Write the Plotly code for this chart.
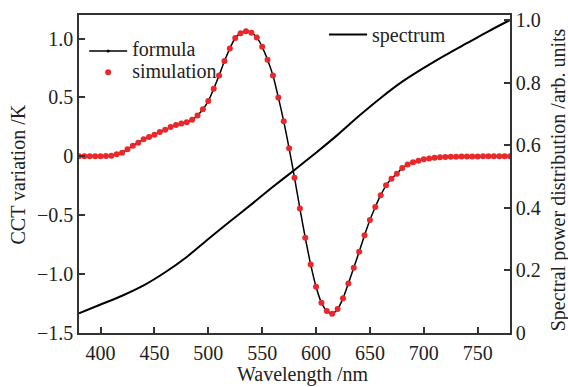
import plotly.graph_objects as go

# Wavelength grid for CCT variation (nm)
wavelength = list(range(380, 785, 5))

# CCT variation /K (formula and simulation coincide)
cct_formula = [
    0, 0, 0, 0, 0, 0.002, 0.005, 0.017, 0.03, 0.06,
    0.09, 0.116, 0.144, 0.164, 0.184, 0.206, 0.225, 0.248, 0.265, 0.278,
    0.29, 0.31, 0.347, 0.40, 0.469, 0.574, 0.686, 0.81, 0.915, 1.005,
    1.045, 1.062, 1.05, 1.01, 0.93, 0.82, 0.686, 0.50, 0.297, 0.068,
    -0.181, -0.442, -0.691, -0.918, -1.108, -1.243, -1.314, -1.336, -1.297, -1.206,
    -1.079, -0.946, -0.81, -0.67, -0.54, -0.43, -0.33, -0.246, -0.19, -0.147,
    -0.099, -0.07, -0.05, -0.037, -0.025, -0.018, -0.012, -0.008, -0.005, -0.004,
    -0.003, -0.002, -0.002, -0.001, -0.001, 0, 0, 0, 0, 0, 0,
]
cct_simulation = list(cct_formula)

# Spectral power distribution (arb. units)
spec_wavelength = [380, 400, 420, 440, 460, 480, 500, 520, 540, 560, 580,
                   600, 620, 640, 660, 680, 700, 720, 740, 760, 780]
spectrum = [0.063, 0.091, 0.119, 0.152, 0.194, 0.243, 0.300, 0.356, 0.411, 0.467, 0.521,
            0.576, 0.633, 0.694, 0.751, 0.803, 0.847, 0.888, 0.926, 0.964, 1.0]

x_ticks = [400, 450, 500, 550, 600, 650, 700, 750]
y_ticks = [-1.5, -1.0, -0.5, 0, 0.5, 1.0]
y_ticktext = ["\u22121.5", "\u22121.0", "\u22120.5", "0", "0.5", "1.0"]
y2_ticks = [0, 0.2, 0.4, 0.6, 0.8, 1.0]
y2_ticktext = ["0", "0.2", "0.4", "0.6", "0.8", "1.0"]

FONT = "Liberation Serif"
AX = "#333333"
TXT = "#222222"
RED = "#e8282b"


def big(s):
    return '<span style="font-size:20px">' + s + "</span>"


fig = go.Figure()
fig.add_trace(go.Scatter(
    x=wavelength, y=cct_formula, name=big("formula"), mode="lines+markers",
    line=dict(color="black", width=1.5, shape="spline", smoothing=0.8),
    marker=dict(color="black", size=3), legend="legend",
))
fig.add_trace(go.Scatter(
    x=wavelength, y=cct_simulation, name=big("simulation"), mode="markers",
    marker=dict(color=RED, size=6), legend="legend",
))
fig.add_trace(go.Scatter(
    x=spec_wavelength, y=spectrum, name="spectrum", mode="lines", yaxis="y2",
    line=dict(color="black", width=2, shape="spline", smoothing=0.8),
    legend="legend2",
))

axis_common = dict(
    showgrid=False, zeroline=False, showline=True, linecolor=AX, linewidth=1.5,
    ticks="inside", ticklen=6, tickwidth=1.5, tickcolor=AX, automargin=False,
    tickfont=dict(family=FONT, size=20, color=TXT),
)

fig.update_layout(
    width=568, height=387,
    margin=dict(l=79, r=58, t=15, b=54),
    plot_bgcolor="white", paper_bgcolor="white",
    font=dict(family=FONT, size=20, color=TXT),
    xaxis=dict(range=[380, 780], tickvals=x_ticks, mirror=True,
               ticklabelstandoff=1, **axis_common),
    yaxis=dict(range=[-1.5, 1.2], tickvals=y_ticks, ticktext=y_ticktext,
               mirror=True, **axis_common),
    yaxis2=dict(range=[0, 1.016], tickvals=y2_ticks, ticktext=y2_ticktext,
                overlaying="y", side="right", **axis_common),
    legend=dict(
        x=0.012, y=0.936, xanchor="left", yanchor="top",
        bgcolor="rgba(0,0,0,0)", font=dict(family=FONT, size=14, color=TXT),
        tracegroupgap=0, itemwidth=38,
    ),
    legend2=dict(
        x=0.5685, y=1.0, xanchor="left", yanchor="top",
        bgcolor="rgba(0,0,0,0)", font=dict(family=FONT, size=20, color=TXT),
        itemwidth=38,
    ),
    showlegend=True,
    annotations=[
        dict(text="Wavelength /nm", xref="paper", yref="paper", x=0.5186, y=-0.132,
             xanchor="center", yanchor="middle", showarrow=False,
             font=dict(family=FONT, size=20, color=TXT)),
        dict(text="CCT variation /K", xref="paper", yref="paper", x=-0.1404, y=0.5,
             xanchor="center", yanchor="middle", textangle=-90, showarrow=False,
             font=dict(family=FONT, size=20, color=TXT)),
        dict(text="Spectral power distribution /arb. units", xref="paper", yref="paper",
             x=1.1114, y=0.48, xanchor="center", yanchor="middle", textangle=-90,
             showarrow=False, font=dict(family=FONT, size=20, color=TXT)),
    ],
)

fig.write_html("out.html", config={"displayModeBar": False},
               post_script="document.body.style.margin='0px';")
